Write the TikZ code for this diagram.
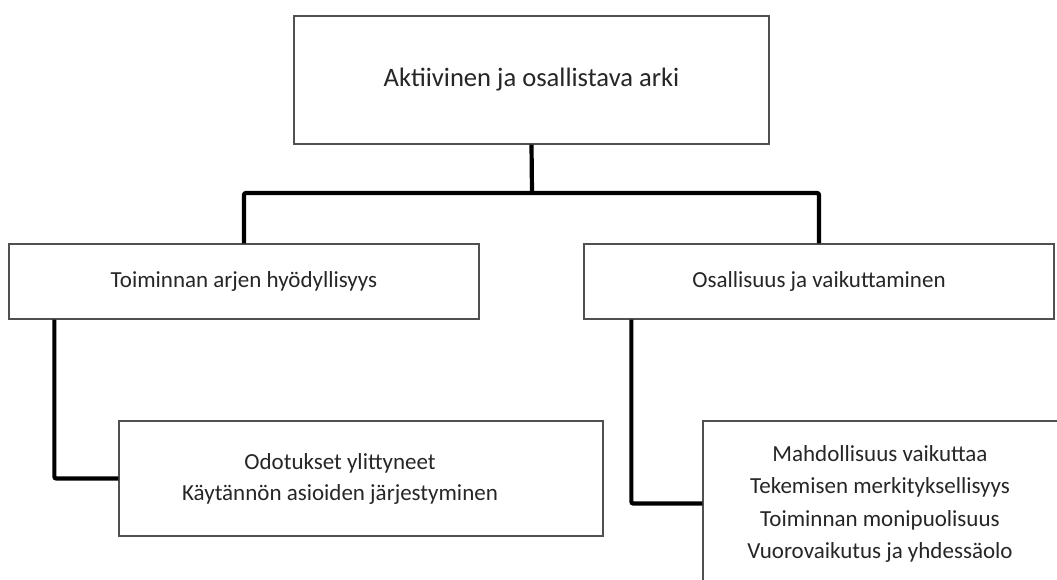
\documentclass[tikz,border=0pt]{standalone}
\usepackage{fontspec}
\setmainfont{Carlito}
\usepackage{xcolor}
\usepackage{tikz}
\usetikzlibrary{positioning,calc}
\definecolor{boxline}{HTML}{505050}
\definecolor{textgray}{HTML}{262626}

\begin{document}
\begin{tikzpicture}[
  x=1pt, y=-1pt,
  box/.style={draw=boxline, line width=1.3pt, fill=white, inner sep=0pt,
              align=center, text=textgray, font=\fontsize{23}{31}\selectfont},
  conn/.style={line width=4.2pt, draw=black, rounded corners=2pt}
]
  \clip (0,0) rectangle (1057,580);
  \fill[white] (0,0) rectangle (1057,580);
  % top level
  \node[box, minimum width=475pt, minimum height=128pt,
        font=\fontsize{26.6}{32}\selectfont] (arki) at (531.5,80) {Aktiivinen ja osallistava arki};
  % second level
  \node[box, minimum width=470pt, minimum height=75pt] (hyoty) at (244,281.5) {Toiminnan arjen hyödyllisyys};
  \node[box, minimum width=470pt, minimum height=75pt] (osal) at (819,281.5) {Osallisuus ja vaikuttaminen};
  % third level
  \node[box, minimum width=484pt, minimum height=115pt] (odot) at (361,478.5)
    {\begin{tabular}{@{}c@{}}Odotukset ylittyneet\\Käytännön asioiden järjestyminen\end{tabular}\hspace{42pt}};
  \node[box, minimum width=362pt, minimum height=165pt,
        font=\fontsize{23}{32.3}\selectfont] (mahd) at (884,503.5)
    {\begin{tabular}{@{}c@{}}Mahdollisuus vaikuttaa\\Tekemisen merkityksellisyys\\Toiminnan monipuolisuus\\Vuorovaikutus ja yhdessäolo\end{tabular}\hspace{8pt}};

  \coordinate (bus) at (532,193);
  \draw[conn] (arki.south) -- (bus);
  \draw[conn] (hyoty.north) |- (bus) -| (osal.north);
  \draw[conn] ([xshift=46pt]hyoty.south west) |- (odot.west);
  \draw[conn] ([xshift=48pt]osal.south west) |- (mahd.west);
\end{tikzpicture}
\end{document}
